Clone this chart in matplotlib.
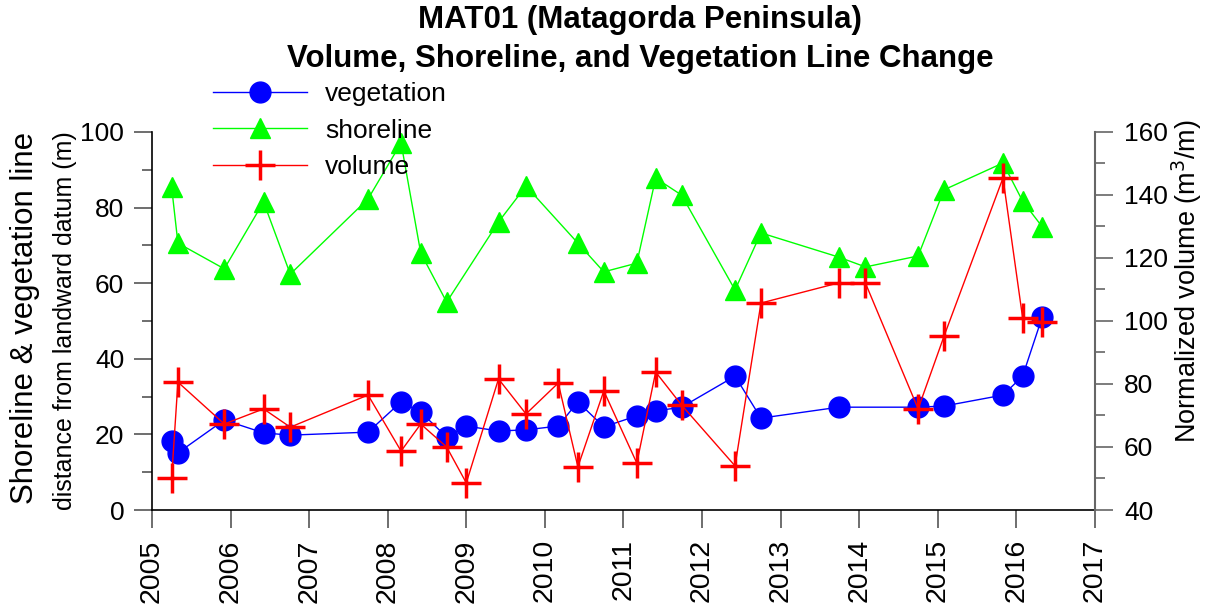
"""MAT01 volume, shoreline and vegetation line change chart."""

import matplotlib

matplotlib.use("Agg")
import matplotlib.pyplot as plt
from matplotlib import font_manager
from matplotlib.ticker import MultipleLocator

plt.rcParams["font.family"] = ["Liberation Sans", "DejaVu Sans"]

# Survey dates (decimal years)
veg_dates = [2005.25, 2005.33, 2005.92, 2006.42, 2006.76, 2007.75, 2008.17, 2008.42,
             2008.75, 2009.0, 2009.41, 2009.76, 2010.17, 2010.42, 2010.75, 2011.17,
             2011.41, 2011.74, 2012.42, 2012.75, 2013.74, 2014.75, 2015.08, 2015.83,
             2016.08, 2016.33]
vegetation = [18.3, 15.1, 23.8, 20.4, 19.8, 20.6, 28.6, 25.9, 19.3, 22.2, 20.9, 21.2,
              22.2, 28.6, 22.0, 24.9, 26.2, 27.2, 35.4, 24.3, 27.2, 27.2, 27.5, 30.4,
              35.4, 51.1]

shore_dates = [2005.25, 2005.33, 2005.92, 2006.42, 2006.76, 2007.75, 2008.17, 2008.42,
               2008.75, 2009.41, 2009.76, 2010.42, 2010.75, 2011.17, 2011.41, 2011.74,
               2012.42, 2012.75, 2013.74, 2014.08, 2014.75, 2015.08, 2015.83, 2016.08,
               2016.33]
shoreline = [85.4, 70.6, 63.8, 81.5, 62.4, 82.3, 97.1, 68.0, 55.0, 76.2, 85.7, 70.6,
             63.0, 65.3, 87.8, 83.3, 58.2, 73.3, 66.9, 64.3, 67.2, 84.7, 91.8, 81.7, 74.9]

vol_dates = [2005.25, 2005.33, 2005.92, 2006.42, 2006.76, 2007.75, 2008.17, 2008.42,
             2008.75, 2009.0, 2009.41, 2009.76, 2010.17, 2010.42, 2010.75, 2011.17,
             2011.41, 2011.74, 2012.42, 2012.75, 2013.74, 2014.08, 2014.75, 2015.08,
             2015.83, 2016.08, 2016.33]
volume = [50.2, 80.6, 67.3, 72.1, 66.3, 76.5, 58.7, 67.3, 60.0, 48.6, 81.6, 70.5, 80.3,
          53.7, 77.8, 54.9, 83.8, 73.3, 54.0, 105.7, 112.1, 112.0, 72.1, 95.2, 145.4,
          101.0, 99.7]

years = list(range(2005, 2018))

# Title wants a condensed bold face; fall back to regular width if missing
installed = {f.name for f in font_manager.fontManager.ttflist}
if "Liberation Sans Narrow" in installed:
    title_family, title_size = "Liberation Sans Narrow", 24
else:
    title_family, title_size = "Liberation Sans", 22.5

fig = plt.figure(figsize=(12.12, 6.11), dpi=100)
ax = fig.add_axes([0.1254, 0.1653, 0.778, 0.6187])
ax2 = ax.twinx()

l1, = ax.plot(veg_dates, vegetation, color="#0000ff", lw=1, marker="o", ms=15,
              label="vegetation")
l2, = ax.plot(shore_dates, shoreline, color="#00ff00", lw=1, marker="^", ms=14,
              label="shoreline")
l3, = ax2.plot(vol_dates, volume, color="#ff0000", lw=1, marker="+", ms=21, mew=2.5,
               label="volume")

ax.set_xlim(2005, 2017)
ax.set_ylim(0, 100)
ax2.set_ylim(40, 160)
ax.set_xticks(years)
ax.set_xticklabels([str(y) for y in years], rotation=90, fontsize=20.5)
ax.yaxis.set_major_locator(MultipleLocator(20))
ax.yaxis.set_minor_locator(MultipleLocator(10))
ax2.yaxis.set_major_locator(MultipleLocator(20))
ax2.yaxis.set_minor_locator(MultipleLocator(10))

ax.tick_params(axis="x", which="major", direction="out", length=13, width=1.2,
               color="#555555", pad=8)
ax.tick_params(axis="y", which="major", direction="out", length=13, width=1.2,
               color="#555555", pad=7, labelsize=19)
ax.tick_params(axis="y", which="minor", direction="out", length=7, width=1.2,
               color="#555555")
ax2.tick_params(axis="y", which="major", direction="out", length=13, width=1.2,
                color="#666666", labelsize=19, pad=8)
ax2.tick_params(axis="y", which="minor", direction="out", length=7, width=1.2,
                color="#666666")

for side in ("top", "right"):
    ax.spines[side].set_visible(False)
for side in ("top", "left", "bottom"):
    ax2.spines[side].set_visible(False)
ax2.spines["right"].set_color("#666666")
ax2.spines["right"].set_linewidth(1.5)
ax.spines["left"].set_linewidth(1.2)
ax.spines["bottom"].set_linewidth(1.2)

fig.text(0.021, 0.479, "Shoreline & vegetation line", rotation=90, fontsize=22.5,
         ha="center", va="center")
fig.text(0.054, 0.475, "distance from landward datum (m)", rotation=90, fontsize=18,
         ha="center", va="center")
fig.text(0.979, 0.54, "Normalized volume (m$^3$/m)", rotation=90, fontsize=19.5,
         ha="center", va="center")

fig.text(0.528, 0.968, "MAT01 (Matagorda Peninsula)", fontsize=title_size,
         fontweight="bold", family=title_family, ha="center", va="center")
fig.text(0.528, 0.903, "Volume, Shoreline, and Vegetation Line Change",
         fontsize=title_size, fontweight="bold", family=title_family,
         ha="center", va="center")

fig.legend(handles=[l1, l2, l3], loc="upper left", bbox_to_anchor=(0.176, 0.865),
           frameon=False, fontsize=19, handlelength=3.56, handletextpad=0.68,
           labelspacing=0.46, borderaxespad=0, borderpad=0)

fig.savefig("out.png", dpi=100)
